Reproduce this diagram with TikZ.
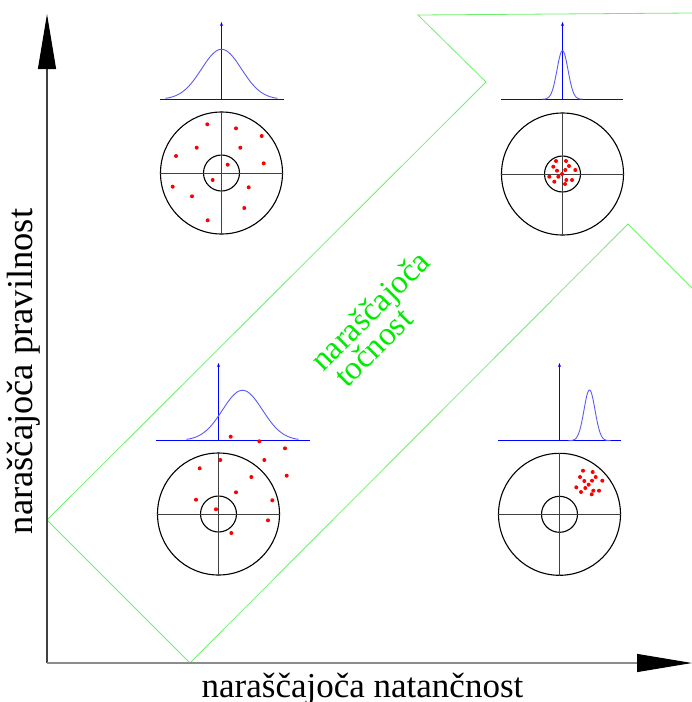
\documentclass[tikz,border=0pt]{standalone}
\usepackage{fontspec}
\setmainfont{Liberation Serif}
\usetikzlibrary{arrows.meta}
\definecolor{lgreen}{RGB}{110,240,110}
\definecolor{tgreen}{RGB}{0,235,0}
\definecolor{cblue}{RGB}{90,90,245}
\begin{document}
\begin{tikzpicture}[x=1pt,y=-1pt,
  ring/.style={circle,draw=black,line width=1.1pt,inner sep=0pt,minimum size=#1},
  cross/.style={draw=black!75,line width=0.9pt},
  curve/.style={draw=cblue,line width=0.9pt},
  dax/.style={draw=blue,line width=0.9pt},
  daxarrow/.style={dax,-{Stealth[length=4pt,width=3pt]}},
  redpt/.style={fill=red},
  outline/.style={draw=lgreen,line width=0.8pt},
  bigaxis/.style={line width=1.1pt,-{Triangle[length=55pt,width=18pt,color=black]}},
  lbl/.style={font=\fontsize{35}{40}\selectfont,inner sep=0pt},
  acctext/.style={rotate=45,text=tgreen,font=\fontsize{33}{36}\selectfont,inner sep=0pt,anchor=base west}]
\useasboundingbox (0,0) rectangle (692,702);

% green outline arrow
\draw[outline] (692,13) -- (418,15) -- (486,82) -- (47,520) -- (190,663) -- (628,224) -- (692,288);

% axes
\coordinate (O) at (47,663);
\coordinate (Ytop) at (47,14);
\coordinate (Xend) at (692,663);
\draw[bigaxis,draw=black!75] (O) -- (Ytop);
\draw[bigaxis,draw=black!45] (O) -- (Xend);
\node[lbl,anchor=base] (xl) at (362.5,697) {naraščajoča natančnost};
\node[lbl,font=\fontsize{36.5}{40}\selectfont,anchor=base,rotate=90] (yl) at (32.5,371.5) {naraščajoča pravilnost};

\node[acctext] (acc1) at (323,373) {naraščajoča};
\node[acctext] (acc2) at (347,389) {točnost};

% ---------- upper left
\node[ring=122pt] (ulo) at (221.5,173) {};
\node[ring=36pt] (uli) at (221.5,173) {};
\draw[cross] (ulo.west) -- (ulo.east);
\draw[cross] (ulo.north) -- (ulo.south);
\coordinate (ulb1) at (160,99.3); \coordinate (ulb2) at (284,99.3);
\coordinate (ula1) at (221.5,99.3); \coordinate (ula2) at (221.5,22);
\draw[dax] (ulb1) -- (ulb2);
\draw[daxarrow] (ula1) -- (ula2);
\draw[curve] plot[domain=-56:56,samples=70] ({221.5+\x},{99.3-50*exp(-(\x/20)*(\x/20)/2)});
\foreach \p in {(207.3,124.3),(236,128.3),(261.7,136),(196.7,147.7),(240.3,147.7),(176,156),(227.7,164.7),(263.7,163.3),(212.7,180),(172.7,186.7),(248.7,187.3),(192,196.3),(244.3,208),(207.7,220.3)}
  \fill[redpt] \p circle[radius=2];

% ---------- upper right
\node[ring=122pt] (uro) at (562.5,174) {};
\node[ring=36pt] (uri) at (562.5,174) {};
\draw[cross] (uro.west) -- (uro.east);
\draw[cross] (uro.north) -- (uro.south);
\coordinate (urb1) at (501,99.3); \coordinate (urb2) at (623,99.3);
\coordinate (ura1) at (562.5,99.3); \coordinate (ura2) at (562.5,22);
\draw[dax] (urb1) -- (urb2);
\draw[daxarrow] (ura1) -- (ura2);
\draw[curve] plot[domain=-20:20,samples=70] ({562.5+\x},{99.3-48.6*exp(-(\x/5.5)*(\x/5.5)/2)});
\foreach \p in {(556,161),(566,161),(553.3,166.7),(569,166),(557,170.7),(565.3,170),(575.3,170),(562,174),(549.3,176.7),(558.3,176.7),(566.3,180),(572,180),(554.3,181.7),(565,184)}
  \fill[redpt] \p circle[radius=2];

% ---------- lower left
\node[ring=122pt] (llo) at (218.5,514) {};
\node[ring=36pt] (lli) at (218.5,514) {};
\draw[cross] (llo.west) -- (llo.east);
\draw[cross] (llo.north) -- (llo.south);
\coordinate (llb1) at (156,440.3); \coordinate (llb2) at (310,440.3);
\coordinate (lla1) at (218.5,440.3); \coordinate (lla2) at (218.5,363);
\draw[dax] (llb1) -- (llb2);
\draw[daxarrow] (lla1) -- (lla2);
\draw[curve] plot[domain=-56:56,samples=70] ({242.5+\x},{440.3-50*exp(-(\x/20)*(\x/20)/2)});
\foreach \p in {(230.7,436.7),(259.3,441.3),(285,448.3),(220.3,460),(264.3,460),(199.7,468.3),(251.3,477),(286.7,475.7),(236,492.3),(196,499.7),(272.3,500.3),(216,509.3),(268,520.3),(231.3,533)}
  \fill[redpt] \p circle[radius=2];

% ---------- lower right
\node[ring=122pt] (lro) at (559.5,514.3) {};
\node[ring=36pt] (lri) at (559.5,514.3) {};
\draw[cross] (lro.west) -- (lro.east);
\draw[cross] (lro.north) -- (lro.south);
\coordinate (lrb1) at (498.3,440.7); \coordinate (lrb2) at (620.7,440.7);
\coordinate (lra1) at (559.5,440.7); \coordinate (lra2) at (559.5,363);
\draw[dax] (lrb1) -- (lrb2);
\draw[daxarrow] (lra1) -- (lra2);
\draw[curve] plot[domain=-21:21,samples=70] ({589.5+\x},{440.7-50.7*exp(-(\x/5.5)*(\x/5.5)/2)});
\foreach \p in {(583,470.7),(592.7,472),(580,477),(595.7,477),(584.3,481),(592,480.7),(602.3,480.7),(588.7,484.7),(576.3,487.3),(585.3,488),(593.3,490.7),(599,490.7),(581,492),(591.7,494.3)}
  \fill[redpt] \p circle[radius=2];
\end{tikzpicture}
\end{document}
